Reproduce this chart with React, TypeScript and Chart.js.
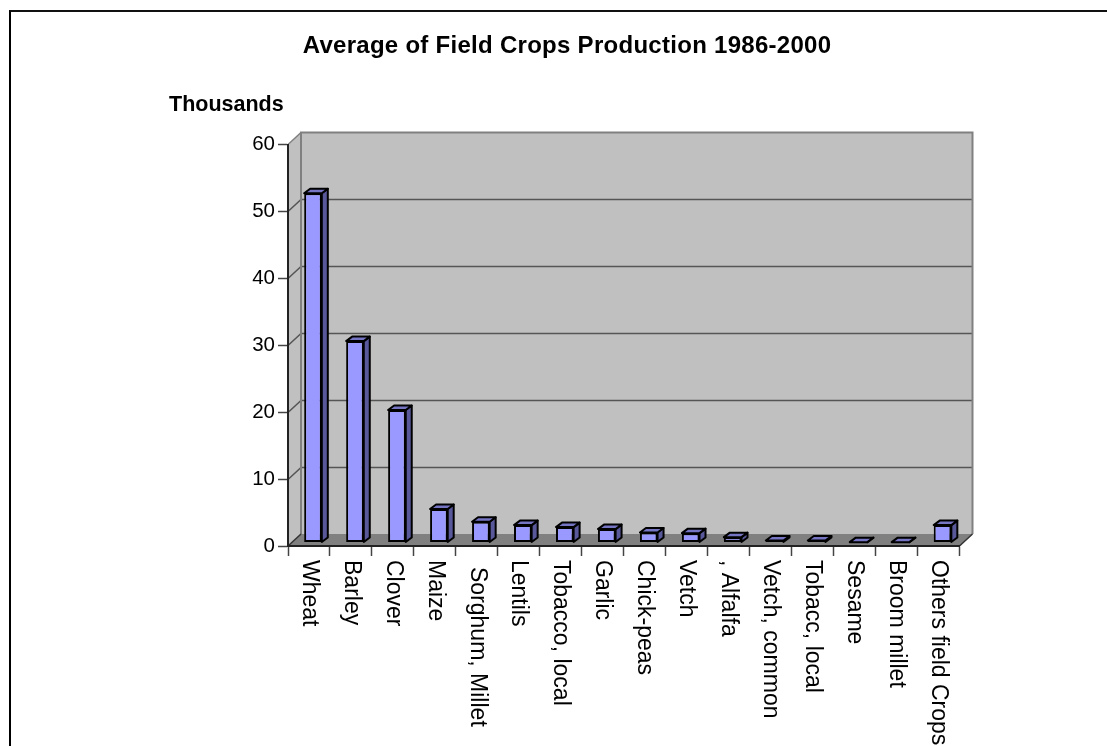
import React, { useEffect, useRef } from "react";
import { Chart, registerables } from "chart.js";

Chart.register(...registerables);

const categories = [
  "Wheat", "Barley", "Clover", "Maize", "Sorghum, Millet", "Lentils",
  "Tobacco, local", "Garlic", "Chick-peas", "Vetch", ", Alfalfa",
  "Vetch, common", "Tobacc, local", "Sesame", "Broom millet", "Others field Crops",
];
const production = [52.2, 30.1, 19.8, 5.0, 3.1, 2.6, 2.3, 2.0, 1.5, 1.4, 0.8, 0.3, 0.3, 0.05, 0.05, 2.6];
const titleText = "Average of Field Crops Production 1986-2000";
const unitText = "Thousands";
const yMax = 60;
const yStep = 10;

const FONT = '"Liberation Sans", Arial, sans-serif';
const WALL_DX = 13;
const WALL_DY = -12;
const BAR_DX = 4;
const BAR_DY = -3.5;
const FACE_DX = 6;
const FACE_DY = -4.5;
const labelIndent: Record<string, number> = { "Sorghum, Millet": 7 };

const poly = (ctx: CanvasRenderingContext2D, pts: number[][], fill?: string, stroke?: string, lw = 1) => {
  ctx.beginPath();
  pts.forEach(([x, y], i) => (i ? ctx.lineTo(x, y) : ctx.moveTo(x, y)));
  ctx.closePath();
  if (fill) { ctx.fillStyle = fill; ctx.fill(); }
  if (stroke) { ctx.strokeStyle = stroke; ctx.lineWidth = lw; ctx.stroke(); }
};

// Walls, floor and gridlines of the box behind the bars, plus the headings.
const boxPlugin = {
  id: "box3d",
  beforeDraw(chart: any) {
    const { ctx, chartArea: a, scales } = chart;
    const y = scales.y;
    ctx.save();
    poly(ctx, [[a.left, a.top], [a.left + WALL_DX, a.top + WALL_DY], [a.left + WALL_DX, a.bottom + WALL_DY], [a.left, a.bottom]], "#c0c0c0");
    poly(ctx, [[a.left + WALL_DX, a.top + WALL_DY], [a.right + WALL_DX, a.top + WALL_DY], [a.right + WALL_DX, a.bottom + WALL_DY], [a.left + WALL_DX, a.bottom + WALL_DY]], "#c0c0c0");
    poly(ctx, [[a.left, a.bottom], [a.left + WALL_DX, a.bottom + WALL_DY], [a.right + WALL_DX, a.bottom + WALL_DY], [a.right, a.bottom]], "#808080");

    for (let v = yStep; v < yMax; v += yStep) {
      const py = Math.round(y.getPixelForValue(v)) + 0.5;
      ctx.strokeStyle = "#555555";
      ctx.lineWidth = 1.5;
      ctx.beginPath();
      ctx.moveTo(a.left, py);
      ctx.lineTo(a.left + WALL_DX, py + WALL_DY);
      ctx.lineTo(a.right + WALL_DX, py + WALL_DY);
      ctx.stroke();
    }
    ctx.strokeStyle = "#808080";
    ctx.lineWidth = 2;
    ctx.beginPath();
    ctx.moveTo(a.left + WALL_DX, a.bottom + WALL_DY);
    ctx.lineTo(a.left + WALL_DX, a.top + WALL_DY);
    ctx.lineTo(a.right + WALL_DX, a.top + WALL_DY);
    ctx.lineTo(a.right + WALL_DX, a.bottom + WALL_DY);
    ctx.stroke();
    ctx.lineWidth = 1.5;
    ctx.beginPath();
    ctx.moveTo(a.left, a.top);
    ctx.lineTo(a.left + WALL_DX, a.top + WALL_DY);
    ctx.stroke();
    ctx.strokeStyle = "#333333";
    ctx.beginPath();
    ctx.moveTo(a.left, a.bottom);
    ctx.lineTo(a.left + WALL_DX, a.bottom + WALL_DY);
    ctx.moveTo(a.right, a.bottom);
    ctx.lineTo(a.right + WALL_DX, a.bottom + WALL_DY);
    ctx.stroke();

    ctx.fillStyle = "#000";
    ctx.textBaseline = "middle";
    ctx.textAlign = "center";
    ctx.font = `bold 24px ${FONT}`;
    (ctx as any).letterSpacing = "0.28px";
    ctx.fillText(titleText, 567, 46);
    (ctx as any).letterSpacing = "0px";
    ctx.textAlign = "left";
    ctx.font = `bold 21.5px ${FONT}`;
    ctx.fillText(unitText, 169, 105);
    ctx.restore();
  },
  // The bars sit partway into the box depth.
  beforeDatasetDraw(chart: any) {
    chart.ctx.save();
    chart.ctx.translate(BAR_DX, BAR_DY);
  },
  afterDatasetDraw(chart: any, args: any) {
    const { ctx } = chart;
    const meta = chart.getDatasetMeta(args.index);
    ctx.lineJoin = "round";
    meta.data.forEach((el: any) => {
      const { x, y, base, width } = el.getProps(["x", "y", "base", "width"], true);
      const l = x - width / 2;
      const r = x + width / 2;
      poly(ctx, [[r, y], [r + FACE_DX, y + FACE_DY], [r + FACE_DX, base + FACE_DY], [r, base]], "#58589a", "#000", 2);
      poly(ctx, [[l, y], [l + FACE_DX, y + FACE_DY], [r + FACE_DX, y + FACE_DY], [r, y]], "#7575c4", "#000", 2);
    });
    ctx.restore();
  },
  // Category names read top to bottom under the axis.
  afterDraw(chart: any) {
    const { ctx, scales } = chart;
    const x = scales.x;
    ctx.save();
    ctx.fillStyle = "#000";
    ctx.font = `23px ${FONT}`;
    ctx.textAlign = "left";
    ctx.textBaseline = "middle";
    categories.forEach((name, i) => {
      ctx.save();
      ctx.translate(x.getPixelForTick(i), 560 + (labelIndent[name] || 0));
      ctx.rotate(Math.PI / 2);
      ctx.fillText(name, 0, 0);
      ctx.restore();
    });
    ctx.restore();
  },
};

export default function App() {
  const ref = useRef<HTMLCanvasElement>(null);
  useEffect(() => {
    const chart = new Chart(ref.current!, {
      type: "bar",
      data: {
        labels: categories,
        datasets: [{
          data: production,
          backgroundColor: "#9999ff",
          borderColor: "#000000",
          borderWidth: 2,
          borderSkipped: false,
          barPercentage: 0.42,
          categoryPercentage: 1,
          clip: false,
        } as any],
      },
      options: {
        responsive: false,
        animation: false,
        layout: { autoPadding: false, padding: { left: 0, top: 144.5, right: 147.5, bottom: 0 } },
        plugins: { legend: { display: false }, title: { display: false }, tooltip: { enabled: false } },
        scales: {
          x: {
            afterFit: (s: any) => { s.height = 200; },
            border: { color: "#222222", width: 2 },
            grid: { offset: true, drawOnChartArea: false, tickLength: 10, tickColor: "#444444", tickWidth: 1.5 },
            ticks: { display: false, autoSkip: false },
          },
          y: {
            min: 0,
            max: yMax,
            afterFit: (s: any) => { s.width = 288; },
            border: { color: "#222222", width: 2 },
            grid: { drawOnChartArea: false, tickLength: 10, tickColor: "#444444", tickWidth: 1.5 },
            ticks: { stepSize: yStep, padding: 3, color: "#000", font: { family: FONT, size: 20.5 } },
          },
        },
      } as any,
      plugins: [boxPlugin as any],
    });
    return () => chart.destroy();
  }, []);
  return (
    <div style={{ position: "fixed", left: 0, top: 0, width: 1107, height: 746, overflow: "hidden", background: "#fff" }}>
      <div style={{ position: "absolute", left: 9, top: 10, right: 0, bottom: 0, borderLeft: "2px solid #000", borderTop: "2px solid #111", boxSizing: "border-box" }} />
      <canvas ref={ref} width={1107} height={746} style={{ position: "absolute", left: 0, top: 0 }} />
    </div>
  );
}
